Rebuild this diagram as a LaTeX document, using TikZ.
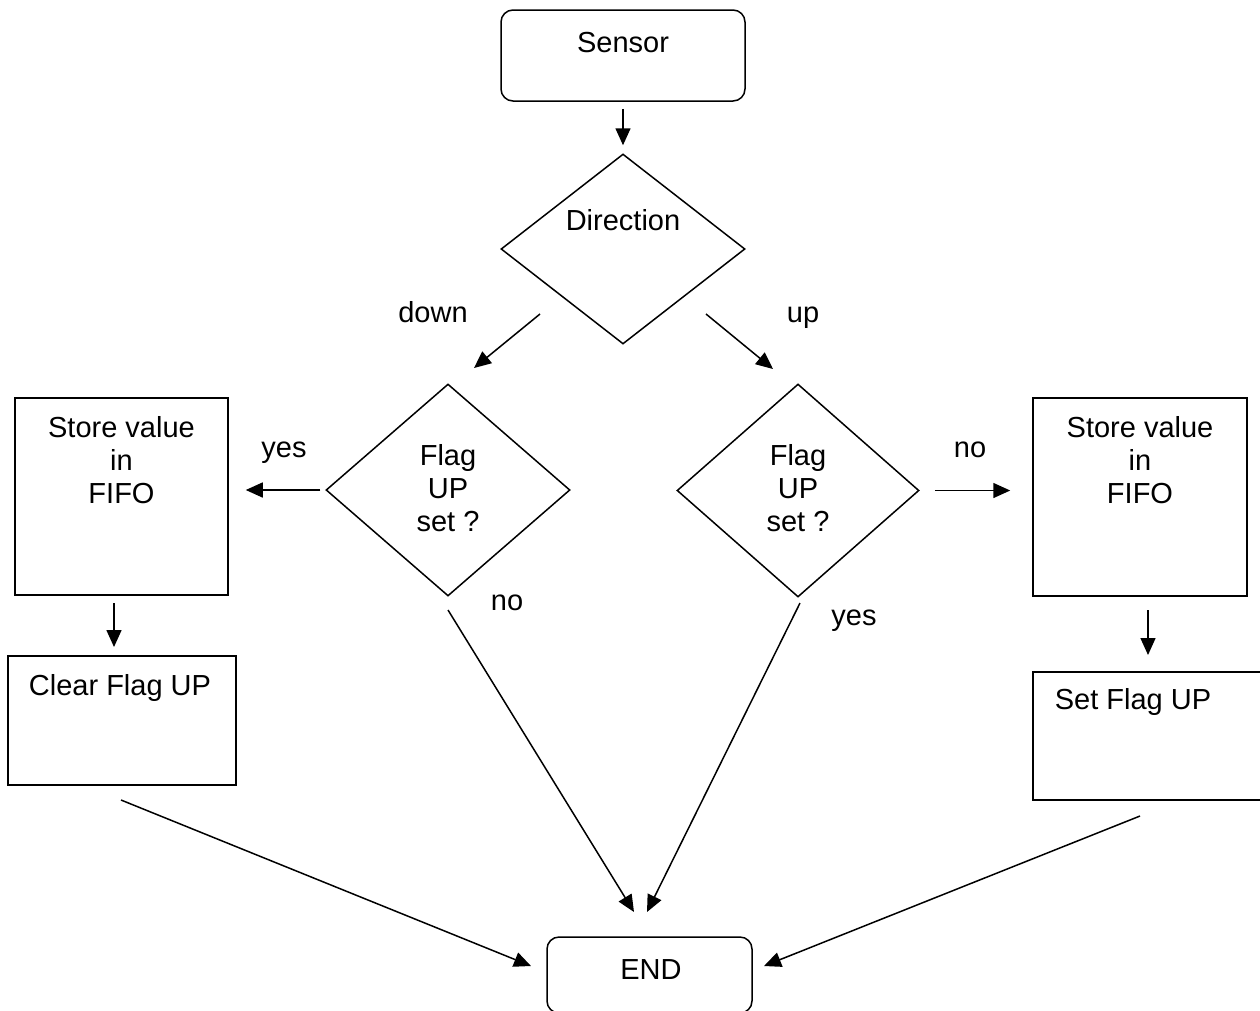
\documentclass[tikz,border=0pt]{standalone}
\usepackage{fontspec}
\setmainfont{Liberation Sans}
\usetikzlibrary{shapes.geometric,arrows.meta}
\tikzset{
  every node/.style={font=\fontsize{29}{33}\selectfont, inner sep=0pt},
  shp/.style={draw, line width=1.5pt},
  rbox/.style={shp, rectangle, rounded corners=12pt},
  pbox/.style={shp, rectangle},
  dia/.style={shp, diamond},
  txt/.style={anchor=base},
  mtxt/.style={anchor=north, align=center},
  arr/.style={line width=1.5pt, -{Triangle[length=17pt,width=15pt]}},
}
\begin{document}
\begin{tikzpicture}[x=1pt,y=-1pt]
\useasboundingbox (0,0) rectangle (1260,1010);
\fill[white] (0,0) rectangle (1260,1010);
\clip (0,0) rectangle (1260,1010);
% shapes
\node[rbox, minimum width=244pt, minimum height=91pt] (sensor) at (623,55.5) {};
\node[dia, minimum width=244pt, minimum height=190pt] (dir) at (623,249) {};
\node[dia, minimum width=244pt, minimum height=212pt] (flagL) at (448,490) {};
\node[dia, minimum width=242pt, minimum height=213pt] (flagR) at (798,490.5) {};
\node[pbox, minimum width=213pt, minimum height=197pt] (storeL) at (121.5,496.5) {};
\node[pbox, minimum width=228pt, minimum height=129pt] (clearL) at (122,720.5) {};
\node[pbox, minimum width=214pt, minimum height=198pt] (storeR) at (1140,497) {};
\node[pbox, minimum width=229pt, minimum height=128pt] (setR) at (1147.5,736) {};
\node[rbox, minimum width=205pt, minimum height=76pt] (endN) at (649.5,975) {};
% texts
\node[txt] (tSensor) at (623,52) {Sensor};
\node[txt] (tDir) at (623,230) {Direction};
\node[mtxt] (tFlagL) at (448,444) {Flag\\UP\\set ?};
\node[mtxt] (tFlagR) at (798,444) {Flag\\UP\\set ?};
\node[mtxt] (tStoreL) at (121.5,416) {Store value\\in\\FIFO};
\node[mtxt] (tStoreR) at (1140,416) {Store value\\in\\FIFO};
\node[txt] (tClear) at (120,695) {Clear Flag UP};
\node[txt] (tSet) at (1133,709) {Set Flag UP};
\node[txt] (tEnd) at (651,979) {END};
% labels
\node[txt] (lDown) at (433,322) {down};
\node[txt] (lUp) at (803,322) {up};
\node[txt] (lYesL) at (284,457) {yes};
\node[txt] (lNoR) at (970,457) {no};
\node[txt] (lNoL) at (507,610) {no};
\node[txt] (lYesR) at (854,625) {yes};
% connector end points
\coordinate (dDownS) at (540,314);
\coordinate (dDownE) at (474,368);
\coordinate (dUpS) at (706,314);
\coordinate (dUpE) at (773,369);
\coordinate (sLS) at (114,603);
\coordinate (sLE) at (114,647);
\coordinate (sRS) at (1148,610);
\coordinate (sRE) at (1148,655);
\coordinate (fLS) at (448,610);
\coordinate (fLE) at (634,912);
\coordinate (fRS) at (800,603);
\coordinate (fRE) at (647,912);
\coordinate (cS) at (121,800);
\coordinate (cE) at (531,966);
\coordinate (stS) at (1140,816);
\coordinate (stE) at (764,966);
% connectors
\draw[arr, shorten <=7pt, shorten >=8pt] (sensor.south) -- (dir.north);
\draw[arr] (dDownS) -- (dDownE);
\draw[arr] (dUpS) -- (dUpE);
\draw[arr, shorten <=5pt, shorten >=17pt] (flagL.west) -- (flagL.west -| storeL.east);
\draw[arr, shorten <=15pt, shorten >=22pt] (flagR.east) -- (flagR.east -| storeR.west);
\draw[arr] (sLS) -- (sLE);
\draw[arr] (sRS) -- (sRE);
\draw[arr] (fLS) -- (fLE);
\draw[arr] (fRS) -- (fRE);
\draw[arr] (cS) -- (cE);
\draw[arr] (stS) -- (stE);
\end{tikzpicture}
\end{document}
